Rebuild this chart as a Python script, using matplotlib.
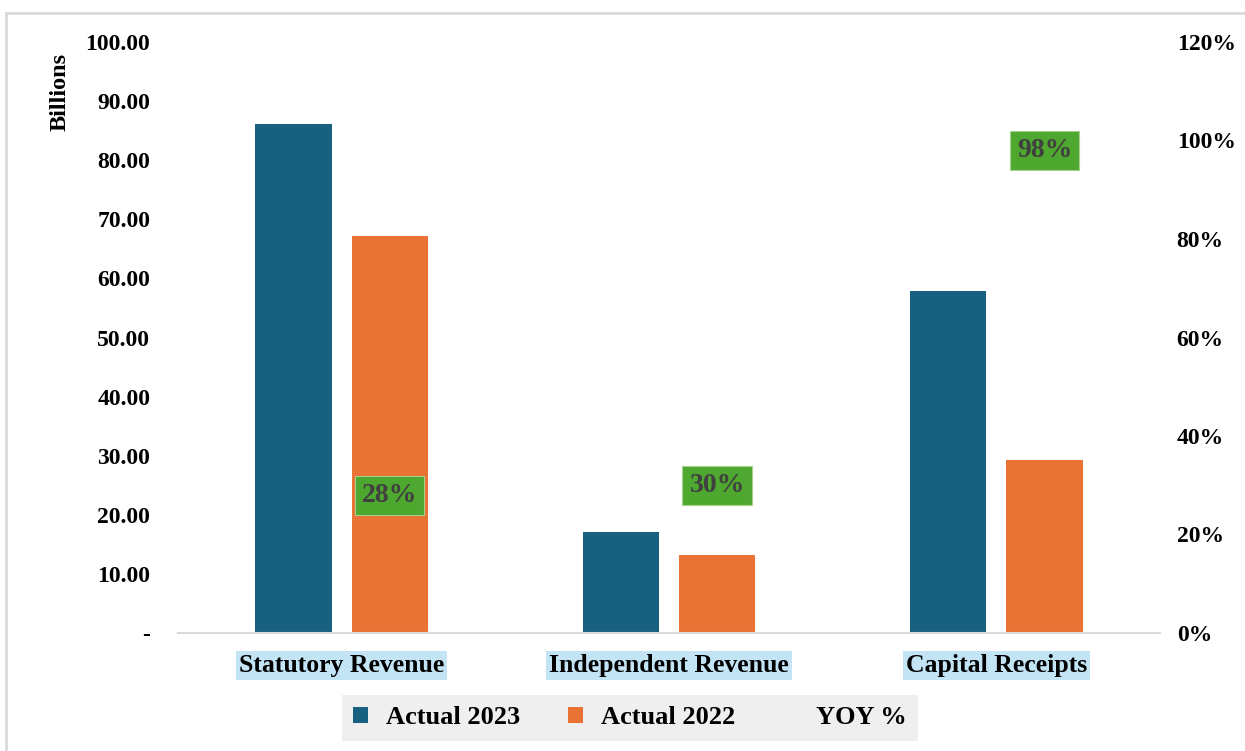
import numpy as np
import matplotlib.pyplot as plt
from matplotlib.patches import Patch
from matplotlib.lines import Line2D

# data
categories = ['Statutory Revenue', 'Independent Revenue', 'Capital Receipts']
actual_2023 = [86.1, 17.1, 57.9]   # billions
actual_2022 = [67.2, 13.2, 29.3]   # billions
yoy_pct = [28, 30, 98]             # %

blue = '#17607f'
orange = '#e97334'
green = '#4ea72e'

plt.rcParams['font.family'] = ['Liberation Serif', 'DejaVu Serif']
plt.rcParams['font.weight'] = 'bold'

fig = plt.figure(figsize=(12.45, 7.51), dpi=100)
ax = fig.add_axes([178 / 1245, 118 / 751, 982 / 1245, 591 / 751])

x = np.arange(len(categories))
width = 0.233
off = 0.147
ax.bar(x - off, actual_2023, width, color=blue, label='Actual 2023')
ax.bar(x + off, actual_2022, width, color=orange, label='Actual 2022')

ax.set_xlim(-0.5, 2.5)
ax.set_ylim(0, 100)
ax.set_yticks(np.arange(0, 101, 10))
ax.set_yticklabels(['-'] + ['%.2f' % v for v in np.arange(10, 101, 10)])
ax.tick_params(axis='y', length=0, pad=20, labelsize=17)
ax.set_xticks(x)
ax.set_xticklabels(categories)
ax.tick_params(axis='x', length=0, pad=15, labelsize=18.5)
for lab in ax.get_xticklabels():
    lab.set_bbox(dict(facecolor='#c3e4f4', edgecolor='none', pad=2))
for s in ['top', 'left', 'right']:
    ax.spines[s].set_visible(False)
ax.spines['bottom'].set_color('#d9d9d9')
ax.spines['bottom'].set_linewidth(1.5)

# secondary axis for YOY %
ax2 = ax.twinx()
ax2.set_ylim(0, 120)
ax2.set_yticks(np.arange(0, 121, 20))
ax2.set_yticklabels(['%d%%' % v for v in np.arange(0, 121, 20)])
ax2.tick_params(axis='y', length=0, pad=12, labelsize=17)
for s in ax2.spines.values():
    s.set_visible(False)
for xi, v in zip(x, yoy_pct):
    ax2.text(xi + off, v, '%d%%' % v, ha='center', va='center', fontsize=20,
             color='#404040', fontweight='bold',
             bbox=dict(facecolor=green, edgecolor='#a8d08d', pad=5, linewidth=0.8))

fig.text(60 / 1245, 1 - 92 / 751, 'Billions', rotation=90, ha='center', va='center',
         fontsize=17.5, fontweight='bold')

handles = [Patch(facecolor=blue, label='Actual 2023'),
           Patch(facecolor=orange, label='Actual 2022'),
           Line2D([], [], color='none', label='YOY %')]
leg = fig.legend(handles=handles, loc='center', bbox_to_anchor=(630 / 1245, 1 - 718 / 751),
                 ncol=3, frameon=True, fontsize=19, handlelength=0.55, handleheight=0.55,
                 columnspacing=1.8, handletextpad=0.7, fancybox=False,
                 borderpad=0.45)
leg.get_frame().set_facecolor('#ebebeb')
leg.get_frame().set_edgecolor('none')

# outer chart border
fig.add_artist(Line2D([6 / 1245, 1], [1 - 12.5 / 751] * 2, color='#d9d9d9', lw=2, transform=fig.transFigure))
fig.add_artist(Line2D([6 / 1245] * 2, [0, 1 - 12.5 / 751], color='#d9d9d9', lw=2, transform=fig.transFigure))

fig.savefig('out.png', dpi=100)
